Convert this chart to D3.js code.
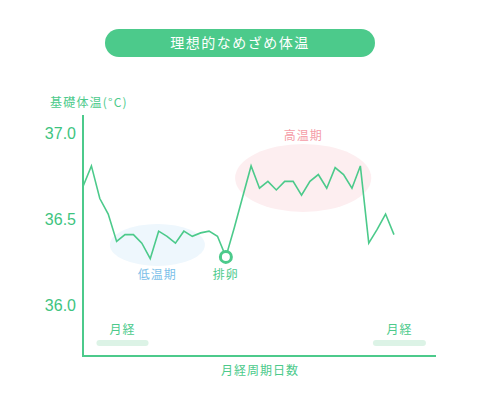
<!DOCTYPE html>
<html>
<head>
<meta charset="utf-8">
<script src="https://cdn.jsdelivr.net/npm/d3@7"></script>
<style>
  html, body { margin: 0; padding: 0; background: #fff; }
  text { font-family: "Noto Sans CJK JP", "Noto Sans", sans-serif; }
</style>
</head>
<body>
<div id="container"></div>
<script>
/* CONSTANTS AND GLOBALS */
const width = 480, height = 406;

const title = "理想的なめざめ体温";
const yLabel = "基礎体温(°C)";
const xLabel = "月経周期日数";
const yTicks = [36.0, 36.5, 37.0];

// basal temperature per cycle day
const days = d3.range(38);
const temps = [
  36.69, 36.81, 36.62, 36.53, 36.37, 36.41, 36.41, 36.36, 36.27, 36.43,
  36.40, 36.36, 36.43, 36.40, 36.42, 36.43, 36.40, 36.28, 36.45, 36.63,
  36.81, 36.68, 36.72, 36.67, 36.72, 36.72, 36.64, 36.72, 36.76, 36.68,
  36.80, 36.76, 36.68, 36.81, 36.36, 36.44, 36.53, 36.41
];
const ovulationDay = 17;

// phases: [label, start day, end day, centre temp]
const phases = [
  { name: "低温期", from: 3.2, to: 14.5, temp: 36.35 },
  { name: "高温期", from: 18.1, to: 34.3, temp: 36.74 }
];
// menstruation periods (cycle day ranges)
const menses = [
  { name: "月経", from: 1.6, to: 7.8 },
  { name: "月経", from: 34.5, to: 40.8 }
];

const green = "#4cca8b";

const svg = d3.select("#container")
  .append("svg")
  .attr("width", width)
  .attr("height", height);

const x = d3.scaleLinear().domain([0, 42]).range([83, 436]);
const y = d3.scaleLinear().domain([36.0, 37.0]).range([305, 133.3]);

// Title pill
svg.append("rect")
  .attr("x", 105).attr("y", 29)
  .attr("width", 270).attr("height", 28)
  .attr("rx", 14)
  .attr("fill", green);
svg.append("text")
  .attr("x", 240).attr("y", 48)
  .attr("text-anchor", "middle")
  .attr("fill", "#fff")
  .attr("font-size", 14)
  .attr("font-weight", 400)
  .attr("letter-spacing", 1.5)
  .text(title);

// Phase ellipses
const phaseFill = ["#eef7fd", "#fdeef0"];
const phaseText = ["#7dbfe9", "#f59ca7"];
svg.selectAll(".phase")
  .data(phases)
  .enter()
  .append("ellipse")
  .attr("class", "phase")
  .attr("cx", d => (x(d.from) + x(d.to)) / 2)
  .attr("cy", d => y(d.temp))
  .attr("rx", d => (x(d.to) - x(d.from)) / 2)
  .attr("ry", (d, i) => i === 0 ? 21 : 34)
  .attr("fill", (d, i) => phaseFill[i]);

// Menstruation bars
svg.selectAll(".menses")
  .data(menses)
  .enter()
  .append("rect")
  .attr("class", "menses")
  .attr("x", d => x(d.from))
  .attr("y", 340)
  .attr("width", d => x(d.to) - x(d.from))
  .attr("height", 6)
  .attr("rx", 3)
  .attr("fill", "#dcf3e6");
svg.selectAll(".menses-label")
  .data(menses)
  .enter()
  .append("text")
  .attr("x", d => (x(d.from) + x(d.to)) / 2)
  .attr("y", 334)
  .attr("text-anchor", "middle")
  .attr("fill", green)
  .attr("font-size", 12)
  .attr("letter-spacing", 1)
  .text(d => d.name);

// Axes
const axisY = svg.append("g")
  .attr("transform", `translate(${x(0)},0)`)
  .call(d3.axisLeft(y).tickValues(yTicks).tickFormat(d3.format(".1f")).tickSize(0).tickPadding(7));
axisY.select(".domain").remove();
axisY.selectAll("text")
  .attr("fill", "#3ec47f")
  .attr("font-size", 16)
  .style("font-family", "'Liberation Sans', Arial, sans-serif");

svg.append("line")
  .attr("x1", x(0)).attr("x2", x(0))
  .attr("y1", 115).attr("y2", 356)
  .attr("stroke", green).attr("stroke-width", 2);
svg.append("line")
  .attr("x1", x(0) - 1).attr("x2", x(42))
  .attr("y1", 356).attr("y2", 356)
  .attr("stroke", green).attr("stroke-width", 2);

svg.append("text")
  .attr("x", 50).attr("y", 107)
  .attr("fill", green)
  .attr("font-size", 12)
  .attr("letter-spacing", 1.2)
  .text(yLabel);
svg.append("text")
  .attr("x", 260).attr("y", 375)
  .attr("text-anchor", "middle")
  .attr("fill", green)
  .attr("font-size", 12)
  .attr("letter-spacing", 1)
  .text(xLabel);

// Temperature line
const line = d3.line()
  .x((d, i) => x(days[i]))
  .y(d => y(d));
svg.append("path")
  .datum(temps)
  .attr("fill", "none")
  .attr("stroke", green)
  .attr("stroke-width", 1.6)
  .attr("stroke-linejoin", "miter")
  .attr("d", line);

// Phase labels
svg.selectAll(".phase-label")
  .data(phases)
  .enter()
  .append("text")
  .attr("x", d => (x(d.from) + x(d.to)) / 2)
  .attr("y", (d, i) => i === 0 ? 279 : 140)
  .attr("text-anchor", "middle")
  .attr("fill", (d, i) => phaseText[i])
  .attr("font-size", 12)
  .attr("letter-spacing", 1)
  .text(d => d.name);

// Ovulation marker
svg.append("circle")
  .attr("cx", x(ovulationDay))
  .attr("cy", y(temps[ovulationDay]))
  .attr("r", 5.5)
  .attr("fill", "#fff")
  .attr("stroke", green)
  .attr("stroke-width", 3);
svg.append("text")
  .attr("x", x(ovulationDay))
  .attr("y", 279)
  .attr("text-anchor", "middle")
  .attr("fill", green)
  .attr("font-size", 12)
  .attr("letter-spacing", 1)
  .text("排卵");
</script>
</body>
</html>
